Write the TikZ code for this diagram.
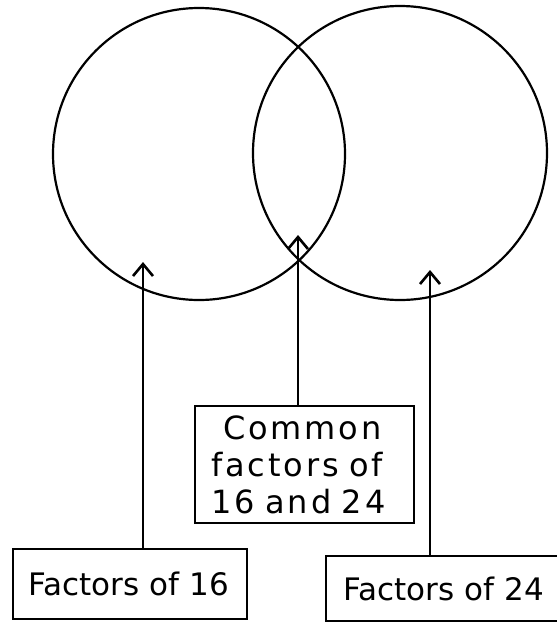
\documentclass[tikz,border=0pt]{standalone}
\usepackage{fontspec}
\setmainfont{DejaVu Sans}
\usetikzlibrary{arrows.meta}
\begin{document}
\begin{tikzpicture}[x=1pt,y=-1pt,
  venn/.style={circle,draw,line width=2.2pt,minimum size=#1,inner sep=0pt},
  box/.style={draw,line width=2.2pt,anchor=north west,align=left,inner ysep=0pt,
              font=\fontsize{31}{37}\selectfont},
  pointer/.style={line width=2pt,-{Straight Barb[length=12pt,width=20pt,line width=2.6pt]}}]
\useasboundingbox (0,0) rectangle (557,624);
\fill[white] (0,0) rectangle (557,624);
\node[venn=292pt] (lc) at (199,154) {};
\node[venn=294pt] (rc) at (400,153) {};
\node[box,text width=204pt,inner xsep=15pt,minimum height=70pt] (lbox) at (12,548) {Factors of 16};
\node[box,text width=240pt,inner xsep=17pt,minimum height=65pt] (rbox) at (325,555) {Factors of 24};
\node[box,text width=187pt,inner xsep=16pt,minimum height=117pt,
      font=\fontsize{32}{37}\selectfont\addfontfeature{LetterSpace=9}] (mbox) at (194,405)
  {\hspace*{12pt}Common\\factors of\\16 and 24};
\coordinate (ltip) at (143,262);
\coordinate (mtip) at (298,235);
\coordinate (rtip) at (430,270);
\draw[pointer] (ltip |- lbox.north) -- (ltip);
\draw[pointer] (mtip |- mbox.north) -- (mtip);
\draw[pointer] (rtip |- rbox.north) -- (rtip);
\end{tikzpicture}
\end{document}
